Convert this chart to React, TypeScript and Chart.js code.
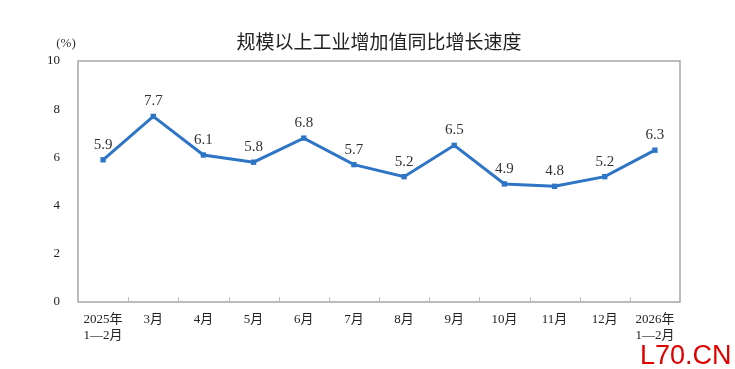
import React, { useEffect, useRef } from "react";
import { Chart, registerables } from "chart.js";

Chart.register(...registerables);

const categories: (string | string[])[] = [
  ["2025年", "1—2月"], "3月", "4月", "5月", "6月", "7月", "8月", "9月", "10月", "11月", "12月", ["2026年", "1—2月"],
];
const growthValues = [5.9, 7.7, 6.1, 5.8, 6.8, 5.7, 5.2, 6.5, 4.9, 4.8, 5.2, 6.3];
const yTicks = [0, 2, 4, 6, 8, 10];
const titleText = "规模以上工业增加值同比增长速度";
const unitText = "(%)";
const watermark = "L70.CN";

const SERIF = "'Liberation Serif', 'Noto Sans CJK SC', serif";
const SANS = "'Noto Sans CJK SC', 'Noto Sans', sans-serif";

const decorPlugin = {
  id: "decor",
  beforeDatasetsDraw(chart: any) {
    const { ctx, chartArea } = chart;
    const { left, right, top, bottom } = chartArea;
    ctx.save();
    ctx.strokeStyle = "#a6a6a6";
    ctx.lineWidth = 1.5;
    ctx.strokeRect(left, top, right - left, bottom - top);
    const xs = chart.scales.x;
    ctx.lineWidth = 1;
    ctx.strokeStyle = "#bfbfbf";
    for (let i = 0; i < categories.length - 1; i++) {
      const x = (xs.getPixelForValue(i) + xs.getPixelForValue(i + 1)) / 2;
      ctx.beginPath();
      ctx.moveTo(Math.round(x) + 0.5, bottom);
      ctx.lineTo(Math.round(x) + 0.5, bottom - 5);
      ctx.stroke();
    }
    ctx.restore();
  },
  afterDraw(chart: any) {
    const { ctx, chartArea } = chart;
    ctx.save();
    ctx.fillStyle = "#222";
    ctx.font = `19px ${SANS}`;
    ctx.textAlign = "center";
    ctx.textBaseline = "middle";
    ctx.fillText(titleText, (chartArea.left + chartArea.right) / 2, 42);
    ctx.font = `13px ${SERIF}`;
    ctx.fillStyle = "#333";
    ctx.fillText(unitText, 66, 44);
    const meta = chart.getDatasetMeta(0);
    ctx.font = `15px ${SERIF}`;
    ctx.fillStyle = "#333";
    ctx.textBaseline = "alphabetic";
    meta.data.forEach((pt: any, i: number) => {
      ctx.fillText(growthValues[i].toFixed(1), pt.x, pt.y - 11);
    });
    ctx.font = `27px 'Liberation Sans', Arial, sans-serif`;
    ctx.fillStyle = "#e00000";
    ctx.textAlign = "left";
    ctx.fillText(watermark, 640, 364);
    ctx.restore();
  },
};

export default function App() {
  const ref = useRef<HTMLCanvasElement>(null);
  useEffect(() => {
    if (!ref.current) return;
    const chart = new Chart(ref.current, {
      type: "line",
      data: {
        labels: categories,
        datasets: [
          {
            data: growthValues,
            borderColor: "#2e75c6",
            backgroundColor: "#2e75c6",
            borderWidth: 3,
            pointStyle: "rect",
            pointRadius: 3.8,
            pointBorderWidth: 0,
            tension: 0,
          },
        ],
      },
      options: {
        responsive: false,
        animation: false,
        events: [],
        layout: { padding: { left: 0, top: 61, right: 55, bottom: 0 } },
        plugins: { legend: { display: false }, tooltip: { enabled: false }, title: { display: false } },
        scales: {
          x: {
            offset: true,
            grid: { display: false },
            border: { display: false },
            ticks: {
              color: "#222",
              font: { family: SERIF, size: 13, lineHeight: 1.25 },
              padding: 1,
              maxRotation: 0,
              autoSkip: false,
            },
            afterFit(scale: any) {
              scale.height = 67;
            },
          },
          y: {
            min: 0,
            max: 10,
            afterBuildTicks(scale: any) {
              scale.ticks = yTicks.map((v) => ({ value: v }));
            },
            grid: { display: false },
            border: { display: false },
            ticks: {
              color: "#222",
              font: { family: SERIF, size: 13 },
              padding: 10,
            },
            afterFit(scale: any) {
              scale.width = 78;
            },
          },
        },
      },
      plugins: [decorPlugin],
    });
    return () => chart.destroy();
  }, []);
  return (
    <div style={{ position: "fixed", left: 0, top: 0, width: 735, height: 369, background: "#fff" }}>
      <canvas ref={ref} width={735} height={369} style={{ width: 735, height: 369, display: "block" }} />
    </div>
  );
}
